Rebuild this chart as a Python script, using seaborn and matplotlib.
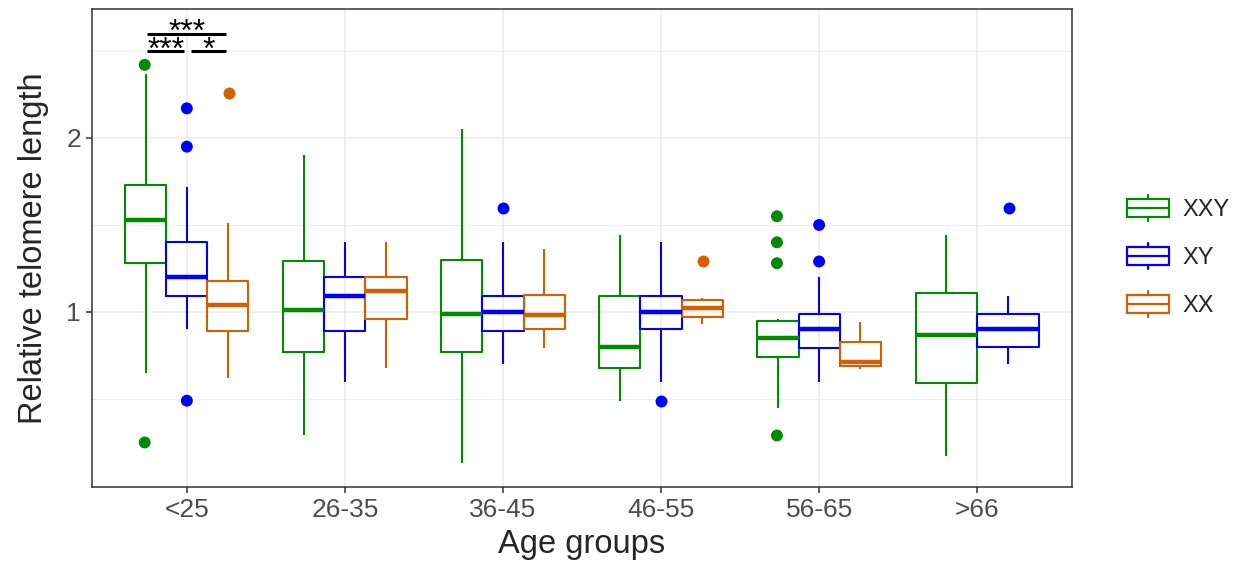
import pandas as pd
import seaborn as sns
import matplotlib.pyplot as plt
from matplotlib.legend_handler import HandlerBase
from matplotlib.patches import Rectangle, Patch
from matplotlib.lines import Line2D
from matplotlib.transforms import offset_copy

# categories
age_groups = ["<25", "26-35", "36-45", "46-55", "56-65", ">66"]
karyotypes = ["XXY", "XY", "XX"]
palette = {"XXY": "#008B00", "XY": "#0000FF", "XX": "#D55E00"}

# five-number summaries (whisker low, Q1, median, Q3, whisker high)
box_age = ["<25", "<25", "<25", "26-35", "26-35", "26-35", "36-45", "36-45", "36-45",
           "46-55", "46-55", "46-55", "56-65", "56-65", "56-65", ">66", ">66"]
box_kar = ["XXY", "XY", "XX", "XXY", "XY", "XX", "XXY", "XY", "XX",
           "XXY", "XY", "XX", "XXY", "XY", "XX", "XXY", "XY"]
whisk_lo = [0.65, 0.90, 0.62, 0.29, 0.60, 0.68, 0.13, 0.70, 0.79, 0.49, 0.60, 0.93, 0.45, 0.60, 0.67, 0.17, 0.70]
q1 = [1.28, 1.09, 0.89, 0.77, 0.89, 0.96, 0.77, 0.89, 0.90, 0.68, 0.90, 0.97, 0.74, 0.79, 0.69, 0.59, 0.80]
med = [1.53, 1.20, 1.04, 1.01, 1.09, 1.12, 0.99, 1.00, 0.98, 0.80, 1.00, 1.02, 0.85, 0.90, 0.71, 0.87, 0.90]
q3 = [1.73, 1.40, 1.18, 1.29, 1.20, 1.20, 1.30, 1.09, 1.10, 1.09, 1.09, 1.07, 0.95, 0.99, 0.83, 1.11, 0.99]
whisk_hi = [2.37, 1.72, 1.51, 1.90, 1.40, 1.40, 2.05, 1.40, 1.36, 1.44, 1.40, 1.08, 0.96, 1.20, 0.94, 1.44, 1.09]

# outlying points
out_age = ["<25", "<25", "<25", "<25", "<25", "<25", "36-45", "46-55", "46-55",
           "56-65", "56-65", "56-65", "56-65", "56-65", "56-65", ">66"]
out_kar = ["XXY", "XXY", "XY", "XY", "XY", "XX", "XY", "XY", "XX",
           "XXY", "XXY", "XXY", "XXY", "XY", "XY", "XY"]
out_val = [2.42, 0.25, 2.17, 1.95, 0.49, 2.26, 1.60, 0.49, 1.29,
           1.55, 1.40, 1.28, 0.29, 1.50, 1.29, 1.60]

# significance brackets (group <25)
sig_x0 = [-0.249, -0.249, 0.025]
sig_x1 = [0.247, -0.017, 0.247]
sig_y = [2.60, 2.50, 2.50]
sig_lab = ["***", "***", "*"]

rows = []
for a, k, s in zip(box_age, box_kar, zip(whisk_lo, q1, med, q3, whisk_hi)):
    for v in s:
        rows.append((a, k, v))
df = pd.DataFrame(rows, columns=["age", "karyotype", "rtl"])
out = pd.DataFrame({"age": out_age, "karyotype": out_kar, "rtl": out_val})

sns.set_theme(style="white")
plt.rcParams["font.family"] = ["Liberation Sans", "DejaVu Sans"]

fig = plt.figure(figsize=(12.39, 5.69), dpi=100)
ax = fig.add_axes([92 / 1239, 1 - 487 / 569, 980 / 1239, 478 / 569])

common = dict(x="age", y="rtl", hue="karyotype", order=age_groups, palette=palette,
              fill=False, whis=(0, 100), showfliers=False, width=0.78, linewidth=1.5,
              medianprops=dict(linewidth=3.2), capprops=dict(linewidth=0),
              legend=False, ax=ax)
sns.boxplot(data=df[df.age != ">66"], hue_order=karyotypes, **common)
sns.boxplot(data=df[df.age == ">66"], hue_order=["XXY", "XY"], **common)

pts = dict(x="age", y="rtl", hue="karyotype", order=age_groups, palette=palette,
           dodge=True, jitter=False, size=8.6, linewidth=0, legend=False, ax=ax)
sns.stripplot(data=out[out.age != ">66"], hue_order=karyotypes, **pts)
sns.stripplot(data=out[out.age == ">66"], hue_order=["XXY", "XY"], **pts)

txt_tr = offset_copy(ax.transData, fig=fig, y=-5.5, units="points")
for x0, x1, y, lab in zip(sig_x0, sig_x1, sig_y, sig_lab):
    ax.plot([x0, x1], [y, y], color="black", lw=2.2, solid_capstyle="butt")
    ax.text((x0 + x1) / 2, y, lab, ha="center", va="baseline", fontsize=23,
            color="black", transform=txt_tr)

ax.set_xlim(-0.6, 5.6)
ax.set_ylim(-0.006, 2.741)
ax.set_yticks([1, 2])
ax.set_yticks([0.5, 1.5, 2.5], minor=True)
ax.grid(which="major", color="#EBEBEB", lw=1.1)
ax.grid(which="minor", axis="y", color="#EBEBEB", lw=0.6)
ax.set_axisbelow(True)
for sp in ax.spines.values():
    sp.set_color("#333333")
    sp.set_linewidth(1.1)
ax.tick_params(which="major", labelsize=19, labelcolor="#4D4D4D", color="#333333",
               length=4, width=1.1, pad=4, bottom=True, left=True)
ax.tick_params(which="minor", length=0)
ax.set_xlabel("Age groups", fontsize=23.5, labelpad=5)
ax.set_ylabel("Relative telomere length", fontsize=23.5, labelpad=12)


class BoxKey(HandlerBase):
    def create_artists(self, legend, orig_handle, xdescent, ydescent, width, height, fontsize, trans):
        c = orig_handle.get_edgecolor()
        x0, y0 = -xdescent, -ydescent
        lo, hi = y0 + height * 5 / 31, y0 + height * 26 / 31
        xm = x0 + width / 2
        rect = Rectangle((x0, lo), width, hi - lo, fill=False, ec=c, lw=1.6, transform=trans)
        mid = Line2D([x0, x0 + width], [y0 + height / 2] * 2, color=c, lw=1.6, transform=trans)
        w1 = Line2D([xm, xm], [y0, lo], color=c, lw=1.6, transform=trans)
        w2 = Line2D([xm, xm], [hi, y0 + height], color=c, lw=1.6, transform=trans)
        return [rect, mid, w1, w2]


handles = [Patch(edgecolor=palette[k], facecolor="white", label=k) for k in karyotypes]
fig.legend(handles=handles, handler_map={Patch: BoxKey()}, loc="center left",
           bbox_to_anchor=(1127 / 1239, 1 - 256 / 569), frameon=False, fontsize=17,
           handlelength=1.78, handleheight=1.31, labelspacing=0.93, handletextpad=0.55,
           borderpad=0, borderaxespad=0)

fig.savefig("out.png", dpi=100)
